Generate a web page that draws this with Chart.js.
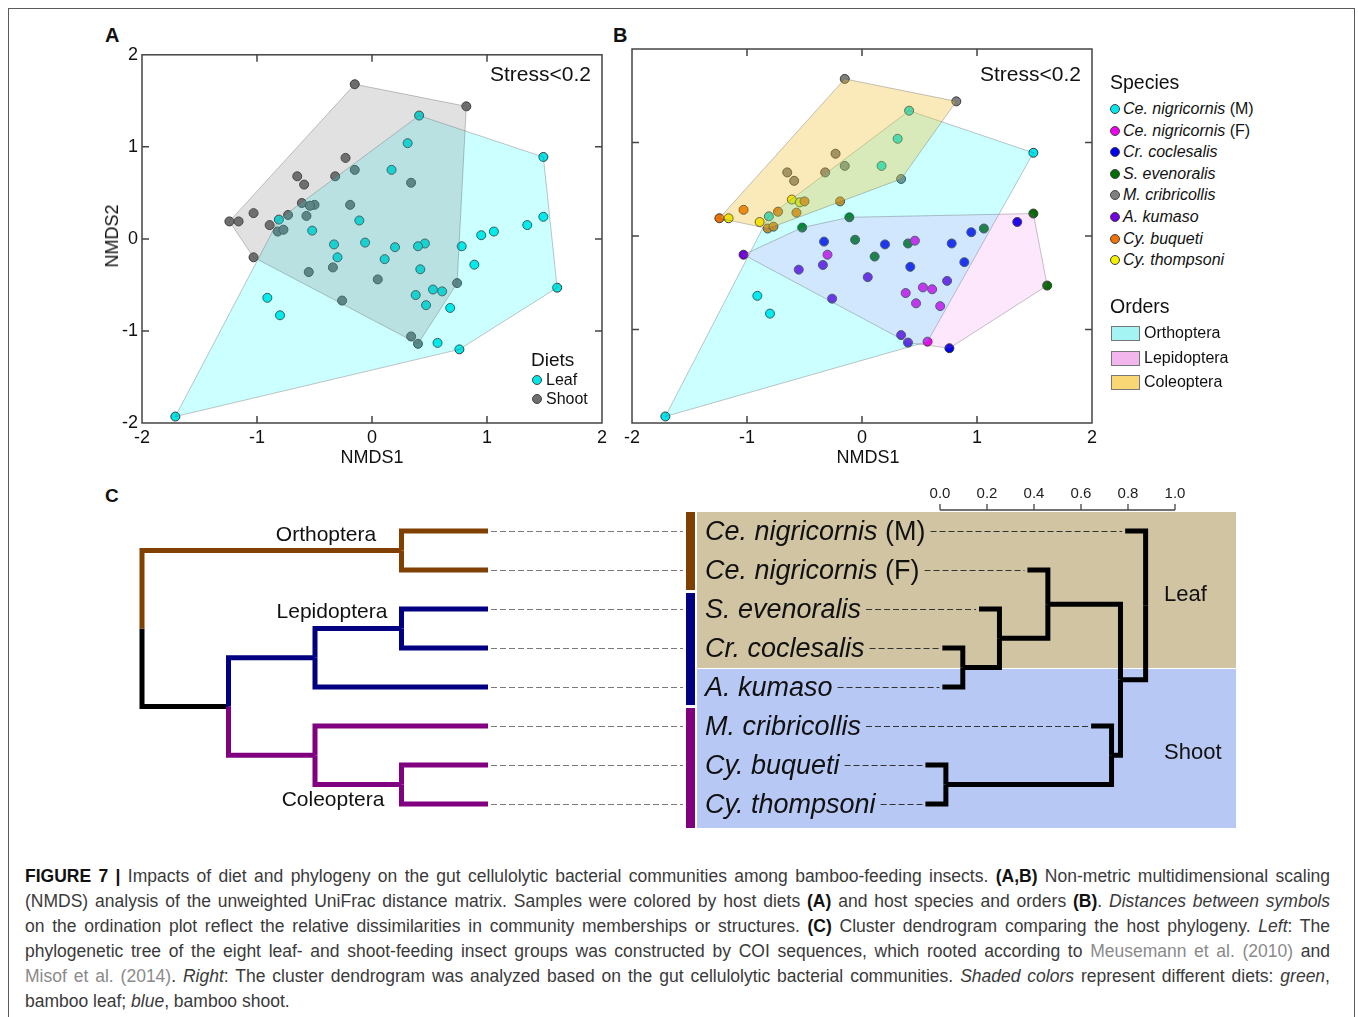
<!DOCTYPE html>
<html>
<head>
<meta charset="utf-8">
<script src="https://cdn.jsdelivr.net/npm/chart.js@4.4.1/dist/chart.umd.min.js"></script>
<style>
  body { margin: 0; background: #fff; font-family: "Liberation Sans", Arial, sans-serif; color: #111; }
  #page { position: relative; width: 1358px; height: 1017px; overflow: hidden; }
  .t { position: absolute; white-space: nowrap; line-height: 1; }
  .c { transform: translate(-50%, -50%); }
  .l { transform: translate(0, -50%); }
  .r { transform: translate(-100%, -50%); }
  .frame { position: absolute; left: 8px; top: 8px; width: 1345px; height: 1100px; border: 1.5px solid #5a5a5a; }
  .box { position: absolute; }
  .dot { position: absolute; width: 8px; height: 8px; border-radius: 50%; border: 1px solid #444; transform: translate(-50%, -50%); }
  .sw { position: absolute; width: 27px; height: 13px; border: 1px solid #777; }
  .cap { position: absolute; left: 25px; white-space: nowrap; font-size: 17.5px; line-height: 1; color: #3a3a3a; display: inline-block; }
  .cap b { color: #111; }
  .ref { color: #8a8a8a; }
  canvas { position: absolute; }
</style>
</head>
<body>
<div id="page">
  <div class="frame"></div>

  <div class="t l" style="left:105px;top:35px;font:bold 20px 'Liberation Sans',Arial">A</div>
  <div class="t l" style="left:613px;top:35px;font:bold 20px 'Liberation Sans',Arial">B</div>
  <div class="t l" style="left:105px;top:496px;font:bold 19px 'Liberation Sans',Arial">C</div>

  <canvas id="chartA" width="515" height="415" style="left:100px;top:40px"></canvas>
  <canvas id="chartB" width="515" height="415" style="left:590px;top:40px"></canvas>

  <div class="t r" style="left:591px;top:73px;font-size:21px">Stress&lt;0.2</div>
  <div class="t r" style="left:1081px;top:73px;font-size:21px">Stress&lt;0.2</div>
  <div class="t c" style="left:372px;top:457px;font-size:18px">NMDS1</div>
  <div class="t c" style="left:868px;top:457px;font-size:18px">NMDS1</div>
  <div class="t c" style="left:112px;top:236px;font-size:18px;transform:translate(-50%,-50%) rotate(-90deg)">NMDS2</div>

  <div class="t l" style="left:531px;top:359px;font-size:19px">Diets</div>
  <div class="dot" style="left:537px;top:380px;background:#00e6e6"></div>
  <div class="t l" style="left:546px;top:380px;font-size:16px">Leaf</div>
  <div class="dot" style="left:537px;top:399px;background:#6e6e6e"></div>
  <div class="t l" style="left:546px;top:399px;font-size:16px">Shoot</div>

  <div id="legendB"></div>

  <div class="box" style="left:697px;top:512px;width:539px;height:156px;background:#d1c4a3"></div>
  <div class="box" style="left:697px;top:669px;width:539px;height:159px;background:#b8c8f5"></div>
  <div class="box" style="left:686px;top:512px;width:9px;height:78px;background:#7f3f00"></div>
  <div class="box" style="left:686px;top:593px;width:9px;height:112px;background:#000080"></div>
  <div class="box" style="left:686px;top:708px;width:9px;height:120px;background:#800080"></div>
  <canvas id="chartC" width="1155" height="360" style="left:95px;top:480px"></canvas>
  <div class="t c" style="left:326px;top:533px;font-size:21px">Orthoptera</div>
  <div class="t c" style="left:332px;top:610px;font-size:21px">Lepidoptera</div>
  <div class="t c" style="left:333px;top:798px;font-size:21px">Coleoptera</div>
  <div class="t l" style="left:1164px;top:594px;font-size:22px">Leaf</div>
  <div class="t l" style="left:1164px;top:752px;font-size:22px">Shoot</div>
  <div id="leafLabels"></div>

  <div class="cap" style="top:868px"><b>FIGURE 7 |</b> Impacts of diet and phylogeny on the gut cellulolytic bacterial communities among bamboo-feeding insects. <b>(A,B)</b> Non-metric multidimensional scaling</div>
  <div class="cap" style="top:893px">(NMDS) analysis of the unweighted UniFrac distance matrix. Samples were colored by host diets <b>(A)</b> and host species and orders <b>(B)</b>. <i>Distances between symbols</i></div>
  <div class="cap" style="top:918px">on the ordination plot reflect the relative dissimilarities in community memberships or structures. <b>(C)</b> Cluster dendrogram comparing the host phylogeny. <i>Left</i>: The</div>
  <div class="cap" style="top:943px">phylogenetic tree of the eight leaf- and shoot-feeding insect groups was constructed by COI sequences, which rooted according to <span class="ref">Meusemann et al. (2010)</span> and</div>
  <div class="cap" style="top:968px"><span class="ref">Misof et al. (2014)</span>. <i>Right</i>: The cluster dendrogram was analyzed based on the gut cellulolytic bacterial communities. <i>Shaded colors</i> represent different diets: <i>green</i>,</div>
  <div class="cap" style="top:993px">bamboo leaf; <i>blue</i>, bamboo shoot.</div>
</div>

<script>
const FONT = '"Liberation Sans", Arial, sans-serif';

// NMDS axis ticks
const tickValues = [-2, -1, 0, 1, 2];
const innerTicks = [-1, 0, 1];

// NMDS1 / NMDS2 scores
const ceNigricornisM = [
  {x: 0.41, y: 1.34}, {x: 0.31, y: 1.04}, {x: 1.49, y: 0.89}, {x: 0.17, y: 0.75},
  {x: -0.81, y: 0.21}, {x: -0.91, y: -0.64}, {x: -0.80, y: -0.83}, {x: -1.71, y: -1.93}
];
const ceNigricornisF = [
  {x: -0.30, y: -0.20}, {x: 0.46, y: -0.05}, {x: 0.38, y: -0.61}, {x: 0.53, y: -0.55},
  {x: 0.61, y: -0.57}, {x: 0.47, y: -0.72}, {x: 0.68, y: -0.75}, {x: 0.57, y: -1.13}
];
const crCoclesalis = [
  {x: -0.33, y: -0.06}, {x: 0.20, y: -0.09}, {x: 0.42, y: -0.33}, {x: 0.78, y: -0.08},
  {x: 0.89, y: -0.28}, {x: 0.95, y: 0.04}, {x: 1.35, y: 0.15}, {x: 0.76, y: -1.20}
];
const sEvenoralis = [
  {x: -0.11, y: 0.20}, {x: -0.52, y: 0.09}, {x: -0.06, y: -0.04}, {x: 0.40, y: -0.08},
  {x: 0.11, y: -0.22}, {x: 1.06, y: 0.08}, {x: 1.49, y: 0.24}, {x: 1.61, y: -0.53}
];
const mCribricollis = [
  {x: -0.15, y: 1.68}, {x: 0.82, y: 1.44}, {x: -0.23, y: 0.88}, {x: -0.15, y: 0.75},
  {x: -0.32, y: 0.68}, {x: -0.65, y: 0.68}, {x: -0.59, y: 0.59}, {x: 0.34, y: 0.61}
];
const aKumaso = [
  {x: -1.03, y: -0.20}, {x: -0.55, y: -0.36}, {x: -0.34, y: -0.31}, {x: 0.05, y: -0.44},
  {x: -0.26, y: -0.67}, {x: 0.74, y: -0.48}, {x: 0.34, y: -1.06}, {x: 0.40, y: -1.14}
];
const cyBuqueti = [
  {x: -0.50, y: 0.37}, {x: -0.19, y: 0.37}, {x: -1.03, y: 0.28}, {x: -1.24, y: 0.19},
  {x: -0.73, y: 0.26}, {x: -0.57, y: 0.25}, {x: -0.82, y: 0.08}, {x: -0.77, y: 0.10}
];
const cyThompsoni = [
  {x: -0.61, y: 0.39}, {x: -0.54, y: 0.36}, {x: -1.16, y: 0.19}, {x: -0.89, y: 0.15}
];

const speciesData = [ceNigricornisM, ceNigricornisF, crCoclesalis, sEvenoralis,
                     mCribricollis, aKumaso, cyBuqueti, cyThompsoni];
const speciesNames = ['Ce. nigricornis', 'Ce. nigricornis', 'Cr. coclesalis', 'S. evenoralis',
                      'M. cribricollis', 'A. kumaso', 'Cy. buqueti', 'Cy. thompsoni'];
const speciesSex = [' (M)', ' (F)', '', '', '', '', '', ''];
const speciesColors = ['#00e5ee', '#ee00ee', '#0000ee', '#006e00',
                       '#808080', '#7000e0', '#f07000', '#f0f000'];

// diets (panel A)
const leafSamples = [].concat(ceNigricornisM, ceNigricornisF, sEvenoralis, crCoclesalis);
const shootSamples = [].concat(mCribricollis, aKumaso, cyBuqueti, cyThompsoni);

// orders (panel B)
const orthoptera = [].concat(ceNigricornisM, ceNigricornisF);
const lepidoptera = [].concat(sEvenoralis, crCoclesalis, aKumaso);
const coleoptera = [].concat(mCribricollis, cyBuqueti, cyThompsoni);
const orderNames = ['Orthoptera', 'Lepidoptera', 'Coleoptera'];
const orderSwatch = ['#a4f4f4', '#f2b6ec', '#f8d774'];

// panel C
const tipNames = ['Ce. nigricornis', 'Ce. nigricornis', 'S. evenoralis', 'Cr. coclesalis',
                  'A. kumaso', 'M. cribricollis', 'Cy. buqueti', 'Cy. thompsoni'];
const tipSuffix = [' (M)', ' (F)', '', '', '', '', '', ''];
// phylogeny (left): merges, negative = tip, positive = earlier merge
const phyloMerges = [[-1, -2], [-3, -4], [2, -5], [-7, -8], [-6, 4], [3, 5], [1, 6]];
const phyloDepth = [3, 3, 2, 3, 2, 1, 0];
const phyloTipDepth = 4;
const phyloTipColor = ['#804000', '#804000', '#000080', '#000080', '#000080', '#800080', '#800080', '#800080'];
const phyloNodeColor = ['#804000', '#000080', '#000080', '#800080', '#800080', '#000000', '#000000'];
// cluster dendrogram (right)
const clusterMerges = [[-4, -5], [-3, 1], [-2, 2], [-7, -8], [-6, 4], [3, 5], [-1, 6]];
const clusterHeight = [0.097, 0.253, 0.459, 0.025, 0.73, 0.768, 0.875];
const clusterHang = 0.087;
const distTicks = [0, 0.2, 0.4, 0.6, 0.8, 1.0];

// ---------- helpers ----------
function convexHull(pts) {
  const p = pts.slice().sort((a, b) => a.x - b.x || a.y - b.y);
  const cross = (o, a, b) => (a.x - o.x) * (b.y - o.y) - (a.y - o.y) * (b.x - o.x);
  const lower = [], upper = [];
  p.forEach(q => {
    while (lower.length >= 2 && cross(lower[lower.length - 2], lower[lower.length - 1], q) <= 0) lower.pop();
    lower.push(q);
  });
  p.slice().reverse().forEach(q => {
    while (upper.length >= 2 && cross(upper[upper.length - 2], upper[upper.length - 1], q) <= 0) upper.pop();
    upper.push(q);
  });
  return lower.slice(0, -1).concat(upper.slice(0, -1));
}

function hullPlugin(groups) {
  return {
    id: 'hulls',
    afterDatasetsDraw(chart) {
      const ctx = chart.ctx, xs = chart.scales.x, ys = chart.scales.y;
      ctx.save();
      groups.forEach(g => {
        ctx.beginPath();
        convexHull(g.points).forEach((q, i) => {
          const px = xs.getPixelForValue(q.x), py = ys.getPixelForValue(q.y);
          if (i) ctx.lineTo(px, py); else ctx.moveTo(px, py);
        });
        ctx.closePath();
        ctx.fillStyle = g.fill;
        ctx.fill();
        ctx.strokeStyle = 'rgba(90,90,90,0.35)';
        ctx.lineWidth = 1;
        ctx.stroke();
      });
      ctx.restore();
    }
  };
}

const framePlugin = {
  id: 'frame',
  afterDraw(chart) {
    const ctx = chart.ctx, a = chart.chartArea, xs = chart.scales.x, ys = chart.scales.y;
    ctx.save();
    ctx.strokeStyle = '#444';
    ctx.lineWidth = 1.5;
    ctx.strokeRect(a.left, a.top, a.right - a.left, a.bottom - a.top);
    ctx.beginPath();
    innerTicks.forEach(v => {
      const px = xs.getPixelForValue(v), py = ys.getPixelForValue(v);
      ctx.moveTo(px, a.bottom); ctx.lineTo(px, a.bottom - 7);
      ctx.moveTo(px, a.top); ctx.lineTo(px, a.top + 7);
      ctx.moveTo(a.left, py); ctx.lineTo(a.left + 7, py);
      ctx.moveTo(a.right, py); ctx.lineTo(a.right - 7, py);
    });
    ctx.stroke();
    ctx.restore();
  }
};

function nmdsScales(showY) {
  const fixTicks = s => { s.ticks = tickValues.map(v => ({value: v})); };
  return {
    x: {
      type: 'linear', min: -2, max: 2, afterBuildTicks: fixTicks,
      ticks: {font: {family: FONT, size: 18}, color: '#111', padding: 4},
      grid: {display: false, drawTicks: false}, border: {display: false},
      afterFit: s => { s.height = 32; }
    },
    y: {
      type: 'linear', min: -2, max: 2, display: showY, afterBuildTicks: fixTicks,
      ticks: {font: {family: FONT, size: 18}, color: '#111', padding: 4},
      grid: {display: false, drawTicks: false}, border: {display: false},
      afterFit: s => { s.width = 42; }
    }
  };
}

function pointSet(data, color) {
  return {
    data: data, pointRadius: 4.5, pointHoverRadius: 4.5, pointBorderWidth: 1,
    pointBackgroundColor: color, pointBorderColor: '#3a3a3a'
  };
}

const baseOptions = (showY) => ({
  responsive: false, animation: false, devicePixelRatio: 1,
  layout: {padding: {top: 9, right: 13, left: 0, bottom: 0}},
  plugins: {legend: {display: false}, tooltip: {enabled: false}},
  scales: nmdsScales(showY)
});

// ---------- panel A ----------
new Chart(document.getElementById('chartA'), {
  type: 'scatter',
  data: {datasets: [pointSet(leafSamples, '#00e6e6'), pointSet(shootSamples, '#6e6e6e')]},
  options: baseOptions(true),
  plugins: [hullPlugin([
    {points: leafSamples, fill: 'rgba(0,255,255,0.2)'},
    {points: shootSamples, fill: 'rgba(120,120,120,0.22)'}
  ]), framePlugin]
});

// ---------- panel B ----------
new Chart(document.getElementById('chartB'), {
  type: 'scatter',
  data: {datasets: speciesData.map((d, i) => pointSet(d, speciesColors[i]))},
  options: baseOptions(false),
  plugins: [hullPlugin([
    {points: orthoptera, fill: 'rgba(0,255,255,0.2)'},
    {points: lepidoptera, fill: 'rgba(240,70,240,0.13)'},
    {points: coleoptera, fill: 'rgba(240,190,40,0.32)'}
  ]), framePlugin]
});

// legend B
(function () {
  const lg = document.getElementById('legendB');
  let html = '<div class="t l" style="left:1110px;top:83px;font-size:19.5px">Species</div>';
  speciesNames.forEach((n, i) => {
    const y = 109 + i * 21.6;
    html += '<div class="dot" style="left:1115px;top:' + y + 'px;background:' + speciesColors[i] + '"></div>' +
      '<div class="t l" style="left:1123px;top:' + y + 'px;font-size:16px"><i>' + n + '</i>' + speciesSex[i] + '</div>';
  });
  html += '<div class="t l" style="left:1110px;top:307px;font-size:19.5px">Orders</div>';
  orderNames.forEach((n, i) => {
    const y = 333 + i * 24.5;
    html += '<div class="sw" style="left:1111px;top:' + (y - 7) + 'px;background:' + orderSwatch[i] + '"></div>' +
      '<div class="t l" style="left:1144px;top:' + y + 'px;font-size:16px">' + n + '</div>';
  });
  lg.innerHTML = html;
})();

// ---------- panel C ----------
const C_LEFT = 95, C_TOP = 480, C_W = 1155, C_H = 360;
function axisRange(v0, p0, v1, p1, size) {
  const k = (p1 - p0) / (v1 - v0);
  const min = v0 - p0 / k;
  return {min: min, max: min + size / k};
}
const tipY = i => 531 + 39 * i;           // page pixel of a tip row (for the html labels)
const yRange = axisRange(0, tipY(0) - C_TOP, 7, tipY(7) - C_TOP, C_H);
const xlRange = axisRange(0, 142 - C_LEFT, phyloTipDepth, 488 - C_LEFT, C_W);
const xrRange = axisRange(0, 940 - C_LEFT, 1, 1175 - C_LEFT, C_W);

// tip labels
const labelRight = [];
(function () {
  const box = document.getElementById('leafLabels');
  tipNames.forEach((n, i) => {
    const d = document.createElement('div');
    d.className = 't l';
    d.style.cssText = 'left:705px;top:' + tipY(i) + 'px;font-size:27px';
    d.innerHTML = '<i>' + n + '</i>' + tipSuffix[i];
    box.appendChild(d);
    labelRight[i] = d.getBoundingClientRect().right;
  });
})();

function buildTree(merges, nodeX, tipX, colorOf, axis) {
  const nodeY = [];
  const yOf = c => c < 0 ? -c - 1 : nodeY[c - 1];
  merges.forEach((m, i) => { nodeY[i] = (yOf(m[0]) + yOf(m[1])) / 2; });
  const sets = [];
  merges.forEach((m, i) => {
    m.forEach(c => {
      const cx = c < 0 ? tipX(-c - 1, i) : nodeX[c - 1];
      sets.push({
        data: [{x: cx, y: yOf(c)}, {x: nodeX[i], y: yOf(c)}, {x: nodeX[i], y: nodeY[i]}],
        borderColor: colorOf(c), xAxisID: axis
      });
    });
  });
  return sets;
}

const stubStart = [];
clusterMerges.forEach((m, i) => m.forEach(c => { if (c < 0) stubStart[-c - 1] = clusterHeight[i] - clusterHang; }));

const treeSets = [].concat(
  buildTree(phyloMerges, phyloDepth, () => phyloTipDepth,
            c => c < 0 ? phyloTipColor[-c - 1] : phyloNodeColor[c - 1], 'xL'),
  buildTree(clusterMerges, clusterHeight, (t, i) => clusterHeight[i] - clusterHang,
            () => '#000000', 'x')
);

const dendroPlugin = {
  id: 'dendroExtras',
  afterDatasetsDraw(chart) {
    const ctx = chart.ctx, xl = chart.scales.xL, xr = chart.scales.x, ys = chart.scales.y;
    ctx.save();
    ctx.lineWidth = 1.2;
    ctx.setLineDash([6, 3]);
    tipNames.forEach((n, i) => {
      const py = Math.round(ys.getPixelForValue(i)) + 0.5;
      ctx.strokeStyle = '#7a7a7a';
      ctx.beginPath();
      ctx.moveTo(xl.getPixelForValue(phyloTipDepth) + 3, py);
      ctx.lineTo(686 - C_LEFT - 3, py);
      ctx.stroke();
      ctx.strokeStyle = '#333';
      ctx.beginPath();
      ctx.moveTo(labelRight[i] - C_LEFT + 5, py);
      ctx.lineTo(xr.getPixelForValue(stubStart[i]) - 3, py);
      ctx.stroke();
    });
    // distance scale bar
    ctx.setLineDash([]);
    ctx.strokeStyle = '#444';
    ctx.lineWidth = 1.3;
    const barY = 510 - C_TOP;
    ctx.beginPath();
    ctx.moveTo(xr.getPixelForValue(distTicks[0]), barY);
    ctx.lineTo(xr.getPixelForValue(distTicks[distTicks.length - 1]), barY);
    distTicks.forEach(v => {
      const px = xr.getPixelForValue(v);
      ctx.moveTo(px, barY); ctx.lineTo(px, barY - 6);
    });
    ctx.stroke();
    ctx.fillStyle = '#222';
    ctx.font = '15px ' + FONT;
    ctx.textAlign = 'center';
    ctx.textBaseline = 'middle';
    distTicks.forEach(v => ctx.fillText(v.toFixed(1), xr.getPixelForValue(v), barY - 16));
    ctx.restore();
  }
};

new Chart(document.getElementById('chartC'), {
  type: 'scatter',
  data: {datasets: treeSets},
  options: {
    responsive: false, animation: false, devicePixelRatio: 1,
    layout: {padding: 0},
    plugins: {legend: {display: false}, tooltip: {enabled: false}},
    datasets: {scatter: {showLine: true, pointRadius: 0, borderWidth: 5,
                         borderJoinStyle: 'miter', borderCapStyle: 'butt', tension: 0}},
    scales: {
      x: {type: 'linear', display: false, min: xrRange.min, max: xrRange.max},
      xL: {type: 'linear', axis: 'x', display: false, min: xlRange.min, max: xlRange.max},
      y: {type: 'linear', display: false, reverse: true, min: yRange.min, max: yRange.max}
    }
  },
  plugins: [dendroPlugin]
});

// justify caption lines like the printed figure
const CAP_W = 1305;
const caps = document.querySelectorAll('.cap');
caps.forEach((el, i) => {
  if (i === caps.length - 1) return;
  const spaces = (el.textContent.match(/ /g) || []).length;
  const w = el.getBoundingClientRect().width;
  el.style.wordSpacing = ((CAP_W - w) / spaces) + 'px';
});
</script>
</body>
</html>
